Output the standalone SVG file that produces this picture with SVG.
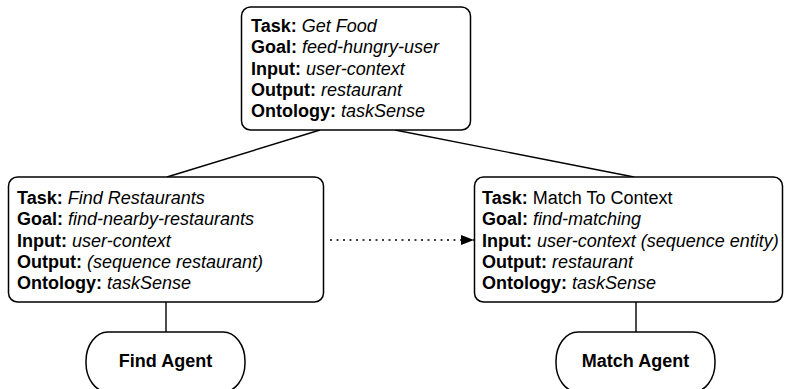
<svg xmlns="http://www.w3.org/2000/svg" width="785" height="389" viewBox="0 0 785 389">
  <style>
    .box { fill: #fff; stroke: #000; stroke-width: 1.5; }
    .pill { fill: #fff; stroke: #000; stroke-width: 1.5; }
    .edge { fill: none; stroke: #000; stroke-width: 1.4; }
    .dots { fill: none; stroke: #000; stroke-width: 1.6; stroke-dasharray: 2 4.5; }
    text { font-family: "Liberation Sans", Arial, Helvetica, sans-serif; font-size: 18px; fill: #000; }
    .k { font-weight: bold; }
    .v { font-style: italic; }
    .agent { font-weight: bold; text-anchor: middle; }
  </style>
  <defs>
    <marker id="arrow" markerWidth="14" markerHeight="10" refX="13" refY="5" orient="auto" markerUnits="userSpaceOnUse">
      <path d="M0,0 L13,5 L0,10 Z" fill="#000"/>
    </marker>
  </defs>

  <g id="connectors">
    <line class="edge" x1="320" y1="130" x2="167" y2="177"/>
    <line class="edge" x1="395" y1="130" x2="634" y2="177"/>
    <line class="edge" x1="166" y1="302" x2="166" y2="332"/>
    <line class="edge" x1="636" y1="302" x2="636" y2="332"/>
    <line class="dots" x1="330" y1="240" x2="474" y2="240" marker-end="url(#arrow)"/>
  </g>

  <g id="get-food">
    <rect class="box" x="241.5" y="7" width="229" height="123" rx="9"/>
    <text x="251" y="32"><tspan class="k">Task:</tspan> <tspan class="v">Get Food</tspan></text>
    <text x="251" y="53.25"><tspan class="k">Goal:</tspan> <tspan class="v">feed-hungry-user</tspan></text>
    <text x="251" y="74.5"><tspan class="k">Input:</tspan> <tspan class="v">user-context</tspan></text>
    <text x="251" y="95.75"><tspan class="k">Output:</tspan> <tspan class="v">restaurant</tspan></text>
    <text x="251" y="117"><tspan class="k">Ontology:</tspan> <tspan class="v">taskSense</tspan></text>
  </g>

  <g id="find-restaurants">
    <rect class="box" x="8.5" y="177" width="315" height="125" rx="9"/>
    <text x="17" y="204"><tspan class="k">Task:</tspan> <tspan class="v">Find Restaurants</tspan></text>
    <text x="17" y="225.25"><tspan class="k">Goal:</tspan> <tspan class="v">find-nearby-restaurants</tspan></text>
    <text x="17" y="246.5"><tspan class="k">Input:</tspan> <tspan class="v">user-context</tspan></text>
    <text x="17" y="267.75"><tspan class="k">Output:</tspan> <tspan class="v">(sequence restaurant)</tspan></text>
    <text x="17" y="289"><tspan class="k">Ontology:</tspan> <tspan class="v">taskSense</tspan></text>
  </g>

  <g id="match-to-context">
    <rect class="box" x="474.5" y="177" width="308" height="125" rx="9"/>
    <text x="482" y="204"><tspan class="k">Task:</tspan> Match To Context</text>
    <text x="482" y="225.25"><tspan class="k">Goal:</tspan> <tspan class="v">find-matching</tspan></text>
    <text x="482" y="246.5"><tspan class="k">Input:</tspan> <tspan class="v">user-context (sequence entity)</tspan></text>
    <text x="482" y="267.75"><tspan class="k">Output:</tspan> <tspan class="v">restaurant</tspan></text>
    <text x="482" y="289"><tspan class="k">Ontology:</tspan> <tspan class="v">taskSense</tspan></text>
  </g>

  <g id="find-agent">
    <rect class="pill" x="86" y="332" width="159" height="60" rx="22" ry="29"/>
    <text class="agent" x="165.5" y="367">Find Agent</text>
  </g>

  <g id="match-agent">
    <rect class="pill" x="556" y="332" width="159" height="60" rx="22" ry="29"/>
    <text class="agent" x="635.5" y="367">Match Agent</text>
  </g>
</svg>
